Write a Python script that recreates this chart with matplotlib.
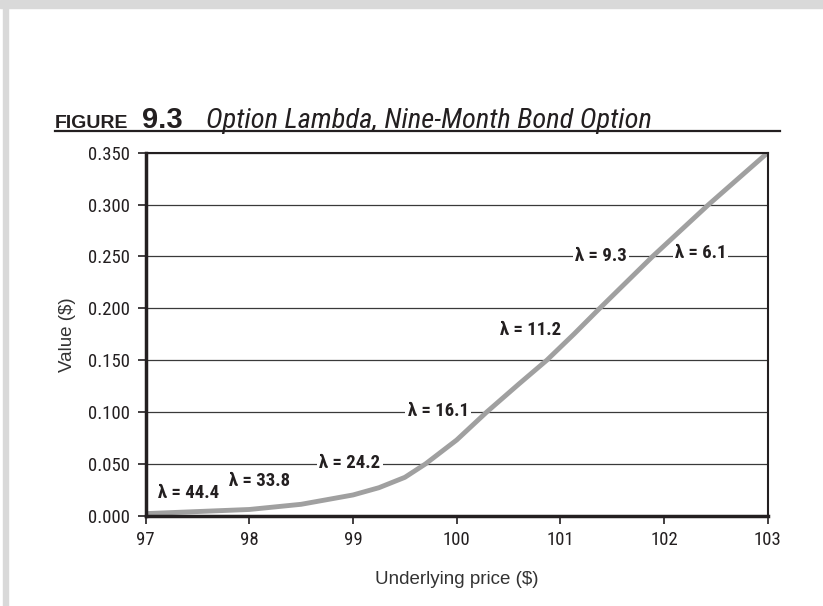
import numpy as np
import matplotlib
matplotlib.use('Agg')
import matplotlib.pyplot as plt
from matplotlib.patches import Rectangle
from matplotlib.lines import Line2D

# option value vs underlying price
price = [97.0, 97.5, 98.0, 98.5, 99.0, 99.25, 99.5, 99.7, 100.0, 100.29,
         100.6, 100.87, 101.13, 101.38, 101.89, 102.43, 103.0]
value = [0.002, 0.004, 0.006, 0.011, 0.020, 0.027, 0.037, 0.050, 0.073, 0.100,
         0.127, 0.150, 0.175, 0.200, 0.250, 0.300, 0.350]

# lambda annotations: text, x, y
lam_text = ['λ = 44.4', 'λ = 33.8', 'λ = 24.2', 'λ = 16.1', 'λ = 11.2', 'λ = 9.3', 'λ = 6.1']
lam_x = [97.41, 98.10, 98.97, 99.82, 100.71, 101.39, 102.35]
lam_y = [0.022, 0.0335, 0.051, 0.101, 0.179, 0.2506, 0.2533]

x_ticks = [97, 98, 99, 100, 101, 102, 103]
y_ticks = np.arange(0, 0.351, 0.05)

narrow = ['Roboto Condensed', 'DejaVu Sans']
plain = ['Liberation Sans', 'DejaVu Sans']
ink = '#231f20'

fig = plt.figure(figsize=(8.23, 6.06), dpi=100)

# page border bits
fig.patches.append(Rectangle((0, 1 - 8 / 606), 1, 8 / 606, transform=fig.transFigure,
                             color='#d9d9d9', zorder=0))
fig.patches.append(Rectangle((3 / 823, 0), 5 / 823, 1, transform=fig.transFigure,
                             color='#d9d9d9', zorder=0))

# title
ty = 1 - 128 / 606
fig.text(55 / 823, ty, 'FIGURE', family=plain, fontsize=14, fontweight='bold',
         color=ink, va='baseline')
fig.text(142 / 823, ty, '9.3', family=plain, fontsize=21, fontweight='bold',
         color=ink, va='baseline')
fig.text(206 / 823, ty, 'Option Lambda, Nine-Month Bond Option', family=narrow,
         fontsize=20.5, style='italic', color=ink, va='baseline')
fig.lines.append(Line2D([55 / 823, 780 / 823], [1 - 131 / 606] * 2,
                        transform=fig.transFigure, color=ink, lw=1.6))

ax = fig.add_axes([145.7 / 823, (606 - 515.7) / 606, 622 / 823, 363 / 606])

for yv in y_ticks[1:]:
    ax.axhline(yv, color='#3a3a3a', lw=0.9, zorder=1)

ax.plot(price, value, color='#a0a0a0', lw=3.5, zorder=3, solid_capstyle='butt')

for t, x, y in zip(lam_text, lam_x, lam_y):
    ax.text(x, y, t, family=narrow, fontsize=13.5, fontweight='bold', color=ink,
            ha='center', va='center', zorder=2,
            bbox=dict(facecolor='white', edgecolor='none', pad=1.5))

ax.set_xlim(97, 103)
ax.set_ylim(0, 0.35)
ax.set_xticks(x_ticks)
ax.set_yticks(y_ticks)
ax.set_yticklabels([f'{v:.3f}' for v in y_ticks])

for lab in ax.get_xticklabels() + ax.get_yticklabels():
    lab.set_family(narrow)
    lab.set_fontsize(13.5)
    lab.set_color(ink)

ax.tick_params(axis='both', direction='out', length=6, width=1.2, color=ink, pad=5)

ax.spines['left'].set_linewidth(2.5)
ax.spines['bottom'].set_linewidth(2.5)
ax.spines['top'].set_linewidth(1.5)
ax.spines['right'].set_linewidth(1.5)
for s in ax.spines.values():
    s.set_color(ink)
    s.set_zorder(4)

ax.set_xlabel('Underlying price ($)', family=plain, fontsize=13.5, color='#333333')
ax.set_ylabel('Value ($)', family=plain, fontsize=13.5, color='#333333')
ax.xaxis.set_label_coords(0.5, -0.152)
ax.yaxis.set_label_coords(-0.112, 0.5)

fig.savefig('out.png', dpi=100)
